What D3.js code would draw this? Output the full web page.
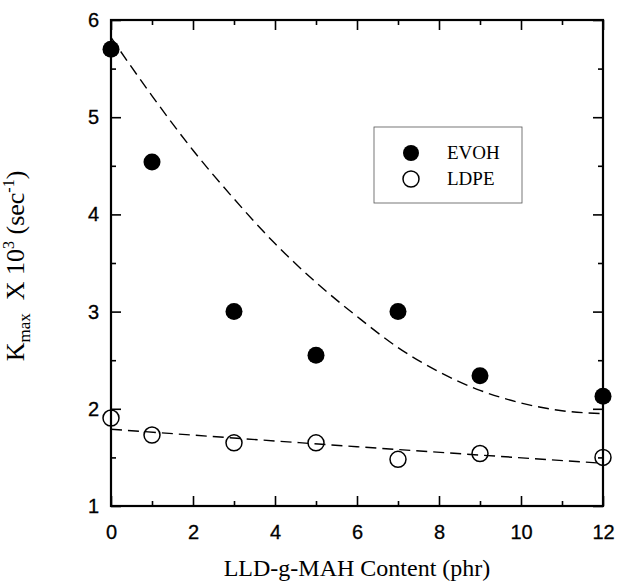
<!DOCTYPE html>
<html><head><meta charset="utf-8">
<script src="https://cdn.jsdelivr.net/npm/d3@7"></script>
<style>body{margin:0;background:#fff} svg{display:block}</style>
</head><body>
<svg id="chart" width="617" height="584"></svg>
<script>
// ---- data ----
const contentX = [0, 1, 3, 5, 7, 9, 12];
const evohValues = [5.70, 4.54, 3.00, 2.55, 3.00, 2.34, 2.13];
const ldpeValues = [1.905, 1.73, 1.65, 1.65, 1.48, 1.54, 1.50];
const evohFitX = [0, 1, 2, 3, 4, 5, 6, 7, 8, 9, 10, 11, 12];
const evohFitY = [5.82, 5.22, 4.66, 4.16, 3.70, 3.30, 2.95, 2.63, 2.38, 2.19, 2.06, 1.98, 1.95];
const ldpeFitX = [0, 6, 12];
const ldpeFitY = [1.79, 1.61, 1.44];
const xTicks = [0, 2, 4, 6, 8, 10, 12];
const xMinorTicks = [1, 3, 5, 7, 9, 11];
const yTicks = [1, 2, 3, 4, 5, 6];
const yMinorTicks = [1.5, 2.5, 3.5, 4.5, 5.5];
const seriesNames = ["EVOH", "LDPE"];

// ---- layout ----
const L = 111, R = 603, T = 20, B = 506;
const svg = d3.select("#chart");
const x = d3.scaleLinear().domain([0, 12]).range([L, R]);
const y = d3.scaleLinear().domain([1, 6]).range([B, T]);

const sansFont = "'Liberation Sans', Arial, sans-serif";
const serifFont = "'Liberation Serif', 'Times New Roman', serif";

function styleAxis(g) {
  g.select(".domain").remove();
  g.selectAll(".tick line").attr("stroke", "#000").attr("stroke-width", 1.6);
  g.selectAll(".tick text").attr("font-family", sansFont).attr("font-size", 20).attr("fill", "#000")
    .attr("stroke", "#000").attr("stroke-width", 0.3);
}

// bottom
svg.append("g").attr("transform", `translate(0,${B})`)
  .call(d3.axisBottom(x).tickValues(xTicks).tickSize(-10).tickPadding(19).tickFormat(d3.format("d")))
  .call(styleAxis);
svg.append("g").attr("transform", `translate(0,${B})`)
  .call(d3.axisBottom(x).tickValues(xMinorTicks).tickSize(-5).tickFormat(""))
  .call(styleAxis);
// top
svg.append("g").attr("transform", `translate(0,${T})`)
  .call(d3.axisTop(x).tickValues(xTicks).tickSize(-10).tickFormat(""))
  .call(styleAxis);
svg.append("g").attr("transform", `translate(0,${T})`)
  .call(d3.axisTop(x).tickValues(xMinorTicks).tickSize(-5).tickFormat(""))
  .call(styleAxis);
// left
svg.append("g").attr("transform", `translate(${L},0)`)
  .call(d3.axisLeft(y).tickValues(yTicks).tickSize(-10).tickPadding(12).tickFormat(d3.format("d")))
  .call(styleAxis);
svg.append("g").attr("transform", `translate(${L},0)`)
  .call(d3.axisLeft(y).tickValues(yMinorTicks).tickSize(-5).tickFormat(""))
  .call(styleAxis);
// right
svg.append("g").attr("transform", `translate(${R},0)`)
  .call(d3.axisRight(y).tickValues(yTicks).tickSize(-10).tickFormat(""))
  .call(styleAxis);
svg.append("g").attr("transform", `translate(${R},0)`)
  .call(d3.axisRight(y).tickValues(yMinorTicks).tickSize(-5).tickFormat(""))
  .call(styleAxis);

// frame
svg.append("rect").attr("x", L).attr("y", T).attr("width", R - L).attr("height", B - T)
  .attr("fill", "none").attr("stroke", "#000").attr("stroke-width", 2.2);

// fit lines
const line = d3.line().x(d => x(d[0])).y(d => y(d[1])).curve(d3.curveMonotoneX);
svg.append("path").datum(evohFitX.map((v, i) => [v, evohFitY[i]]))
  .attr("d", line).attr("fill", "none").attr("stroke", "#000")
  .attr("stroke-width", 1.4).attr("stroke-dasharray", "11,6");
svg.append("path").datum(ldpeFitX.map((v, i) => [v, ldpeFitY[i]]))
  .attr("d", line).attr("fill", "none").attr("stroke", "#000")
  .attr("stroke-width", 1.4).attr("stroke-dasharray", "11,6");

// markers
svg.append("g").selectAll("circle").data(contentX.map((v, i) => [v, evohValues[i]]))
  .join("circle").attr("cx", d => x(d[0])).attr("cy", d => y(d[1])).attr("r", 8.5)
  .attr("fill", "#000");
svg.append("g").selectAll("circle").data(contentX.map((v, i) => [v, ldpeValues[i]]))
  .join("circle").attr("cx", d => x(d[0])).attr("cy", d => y(d[1])).attr("r", 8)
  .attr("fill", "none").attr("stroke", "#000").attr("stroke-width", 1.5);

// legend
const lg = svg.append("g");
lg.append("rect").attr("x", 374).attr("y", 127).attr("width", 148).attr("height", 76)
  .attr("fill", "#fff").attr("stroke", "#555").attr("stroke-width", 0.8);
seriesNames.forEach((name, i) => {
  const cy = 153 + i * 26;
  const c = lg.append("circle").attr("cx", 411).attr("cy", cy).attr("r", 8);
  if (i === 0) c.attr("fill", "#000");
  else c.attr("fill", "none").attr("stroke", "#000").attr("stroke-width", 1.5);
  lg.append("text").attr("x", 447).attr("y", cy + 6).text(name)
    .attr("font-family", serifFont).attr("font-size", 19).attr("fill", "#000");
});

// x title
svg.append("text").attr("x", (L + R) / 2).attr("y", 576).attr("text-anchor", "middle")
  .attr("font-family", serifFont).attr("font-size", 24).attr("fill", "#000")
  .text("LLD-g-MAH Content (phr)");

// y title
const yt = svg.append("text").attr("transform", `translate(24,${(T + B) / 2 + 3}) rotate(-90)`)
  .attr("text-anchor", "middle").attr("font-family", serifFont).attr("font-size", 26).attr("fill", "#000");
yt.append("tspan").text("K");
yt.append("tspan").attr("font-size", 17).attr("dy", 6).text("max");
yt.append("tspan").attr("dy", -6).text("\u00A0\u00A0X 10");
yt.append("tspan").attr("font-size", 16).attr("dy", -10).text("3");
yt.append("tspan").attr("dy", 10).text(" (sec");
yt.append("tspan").attr("font-size", 16).attr("dy", -10).text("-1");
yt.append("tspan").attr("dy", 10).text(")");
</script>
</body></html>
